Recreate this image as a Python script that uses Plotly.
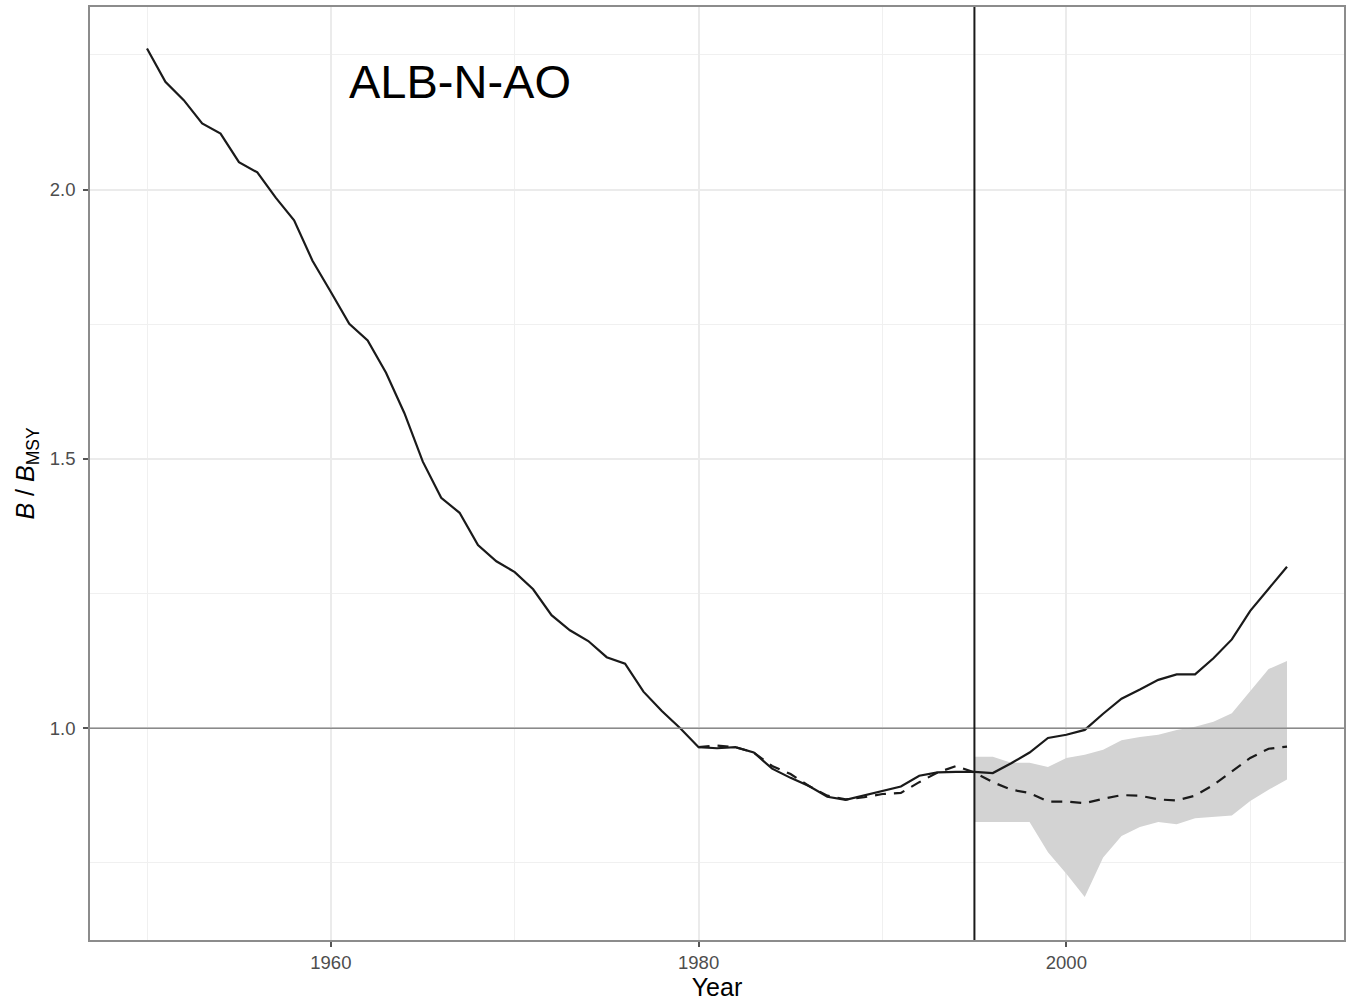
import plotly.graph_objects as go

years = list(range(1950, 2013))
b_bmsy = [2.262, 2.200, 2.166, 2.123, 2.104, 2.051, 2.032, 1.985, 1.943, 1.868,
          1.810, 1.751, 1.720, 1.660, 1.585, 1.495, 1.428, 1.400, 1.340, 1.310,
          1.290, 1.258, 1.210, 1.182, 1.162, 1.132, 1.120, 1.068, 1.032, 1.000,
          0.965, 0.963, 0.965, 0.955, 0.925, 0.908, 0.893, 0.873, 0.867, 0.875,
          0.883, 0.892, 0.912, 0.918, 0.919, 0.919, 0.917, 0.935, 0.955, 0.982,
          0.988, 0.997, 1.027, 1.055, 1.072, 1.090, 1.100, 1.100, 1.130, 1.165,
          1.218, 1.260, 1.300]

dash_years = list(range(1980, 2013))
dash_vals = [0.965, 0.968, 0.965, 0.955, 0.930, 0.915, 0.893, 0.875, 0.868, 0.872,
             0.878, 0.880, 0.900, 0.918, 0.930, 0.918, 0.900, 0.886, 0.880, 0.864,
             0.864, 0.861, 0.869, 0.876, 0.875, 0.868, 0.866, 0.875, 0.895, 0.920,
             0.945, 0.962, 0.966]

band_years = list(range(1995, 2013))
band_upper = [0.947, 0.947, 0.936, 0.936, 0.928, 0.945, 0.951, 0.960, 0.978, 0.984,
              0.988, 0.997, 1.003, 1.012, 1.028, 1.068, 1.110, 1.125]
band_lower = [0.826, 0.826, 0.826, 0.826, 0.770, 0.730, 0.687, 0.760, 0.800, 0.817,
              0.826, 0.822, 0.833, 0.836, 0.838, 0.865, 0.886, 0.905]

ref_year = 1995
ref_level = 1.0
label = "ALB-N-AO"

font_family = "Liberation Sans, Arial, sans-serif"

fig = go.Figure()
fig.add_trace(go.Scatter(x=band_years, y=band_lower, mode="lines",
                         line=dict(width=0), showlegend=False, hoverinfo="skip"))
fig.add_trace(go.Scatter(x=band_years, y=band_upper, mode="lines", fill="tonexty",
                         fillcolor="rgb(211,211,211)", line=dict(width=0),
                         showlegend=False, hoverinfo="skip"))
fig.add_trace(go.Scatter(x=years, y=b_bmsy, mode="lines",
                         line=dict(color="#1a1a1a", width=2.2), showlegend=False))
fig.add_trace(go.Scatter(x=dash_years, y=dash_vals, mode="lines",
                         line=dict(color="#1a1a1a", width=2.2, dash="11px,8px"),
                         showlegend=False))

fig.add_hline(y=ref_level, line=dict(color="#8a8a8a", width=1.6), layer="above")
fig.add_vline(x=ref_year, line=dict(color="#1a1a1a", width=2), layer="above")

fig.add_annotation(x=1967, y=2.2, text=label, showarrow=False,
                   font=dict(family=font_family, size=47, color="black"),
                   xanchor="center", yanchor="middle")

fig.update_layout(
    width=1348, height=1001,
    margin=dict(l=90, r=2, t=7, b=61),
    paper_bgcolor="white", plot_bgcolor="white",
    font=dict(family=font_family),
)
fig.update_xaxes(
    range=[1946.9, 2015.1], tick0=1960, dtick=20,
    showgrid=True, gridcolor="#ebebeb", gridwidth=1.6,
    minor=dict(dtick=10, tick0=1950, showgrid=True, gridcolor="#f0f0f0", gridwidth=1.2),
    showline=True, mirror=True, linecolor="#8c8c8c", linewidth=1.6,
    ticks="outside", ticklen=5, tickcolor="#555555", tickwidth=1.5,
    tickfont=dict(size=18.5, color="#4d4d4d"),
    title=dict(text="Year", font=dict(size=25, color="black"), standoff=6),
    zeroline=False,
)
fig.update_yaxes(
    range=[0.607, 2.339], tick0=1.0, dtick=0.5, tickformat=".1f",
    showgrid=True, gridcolor="#ebebeb", gridwidth=1.6,
    minor=dict(dtick=0.25, tick0=0.75, showgrid=True, gridcolor="#f0f0f0", gridwidth=1.2),
    showline=True, mirror=True, linecolor="#8c8c8c", linewidth=1.6,
    ticks="outside", ticklen=5, tickcolor="#555555", tickwidth=1.5,
    ticklabelstandoff=4,
    tickfont=dict(size=18.5, color="#4d4d4d"),
    title=dict(text="<i>B</i> / <i>B</i><sub>MSY</sub>", font=dict(size=25, color="black"), standoff=8),
    zeroline=False,
)

fig.write_html("out.html", config={"displayModeBar": False},
               post_script="document.body.style.margin='0';document.body.style.overflow='hidden';")
